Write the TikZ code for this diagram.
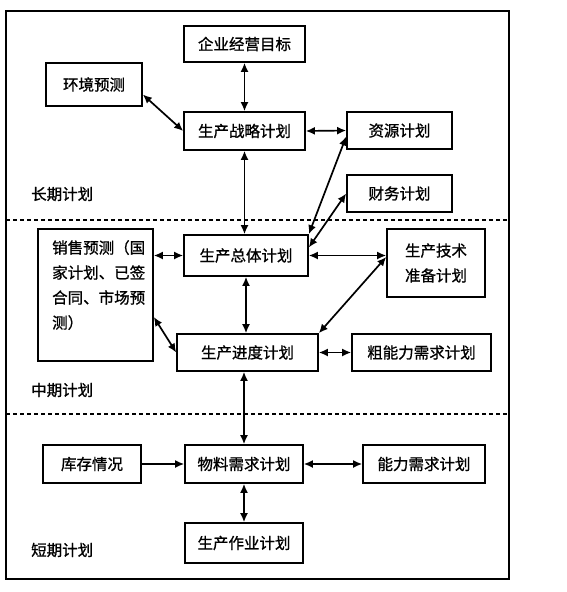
\documentclass[tikz,border=0pt]{standalone}
\usepackage{fontspec}
\setmainfont{Noto Sans CJK SC}[FakeBold=1]
\usetikzlibrary{arrows.meta}
\tikzset{
	hop/.style={draw,line width=1.6pt,inner sep=0pt,align=center},
	lk/.style={{Latex[length=9pt,width=8pt]}-{Latex[length=9pt,width=8pt]},line width=1.7pt},
	lk1/.style={-{Latex[length=9pt,width=8pt]},line width=1.7pt}
}
\begin{document}
\begin{tikzpicture}[x=1pt,y=-1pt,font=\fontsize{15.5}{25}\selectfont]
	\useasboundingbox (0,0) rectangle (566,592);
	\draw[line width=1.6pt] (6,11) rectangle (509,579);
	\foreach \y in {220,414}{\draw[line width=1.2pt,dash pattern=on 4pt off 3pt] (6,\y)--(509,\y);}
	\foreach \n/\x/\y/\w/\h/\t in {mb/244.5/44/121/36/企业经营目标, hj/94/84.5/96/43/环境预测,
		zl/244.5/131/121/38/生产战略计划, zy/399.5/130.5/105/37/资源计划, cw/399.5/193.5/105/37/财务计划,
		zt/246/255.5/124/41/生产总体计划, js/436/263/98/68/生产技术\\准备计划,
		jd/247.5/352.5/141/37/生产进度计划, cn/421.5/352.5/139/37/粗能力需求计划,
		kc/92/464/98/38/库存情况, wl/244/464/118/38/物料需求计划, nl/424/464/122/38/能力需求计划,
		zz/244/543/118/40/生产作业计划}{
		\node[hop,minimum width=\w,minimum height=\h] (\n) at (\x,\y) {\t};
	}
	\node[hop,minimum width=115,minimum height=132] (xs) at (95.5,295) {};
	\node[anchor=north west,align=left,inner sep=0pt] (xst) at (52,240) {销售预测（国\\家计划、已签\\合同、市场预\\测）};
	\foreach \y/\t in {194/长期计划, 390/中期计划, 550/短期计划}{
		\node[anchor=west,inner sep=0pt] (qj\y) at (31,\y) {\t};
	}
	\draw[lk] (mb.south)--(zl.north);
	\draw[lk] ([yshift=-10pt]hj.east)--(zl.west);
	\draw[lk] (zl.east)--(zy.west);
	\draw[lk] (zl.south)--(zl.south|-zt.north);
	\draw[lk] ([yshift=-6pt]zy.west)--(zt.north east);
	\draw[lk] (cw.west)--([yshift=8pt]zt.east);
	\draw[lk] (xs.east|-zt.west)--(zt.west);
	\draw[lk] (zt.east)--(zt.east-|js.west);
	\draw[lk] (zt.south)--(zt.south|-jd.north);
	\draw[lk] ([yshift=6pt]js.west)--(jd.north east);
	\draw[lk] ([yshift=-22pt]xs.east)--(jd.west);
	\draw[lk] (jd.east)--(cn.west);
	\draw[lk] (wl.north|-jd.south)--(wl.north);
	\draw[lk1] (kc.east)--(wl.west);
	\draw[lk] (wl.east)--(nl.west);
	\draw[lk] (wl.south)--(zz.north);
\end{tikzpicture}
\end{document}
